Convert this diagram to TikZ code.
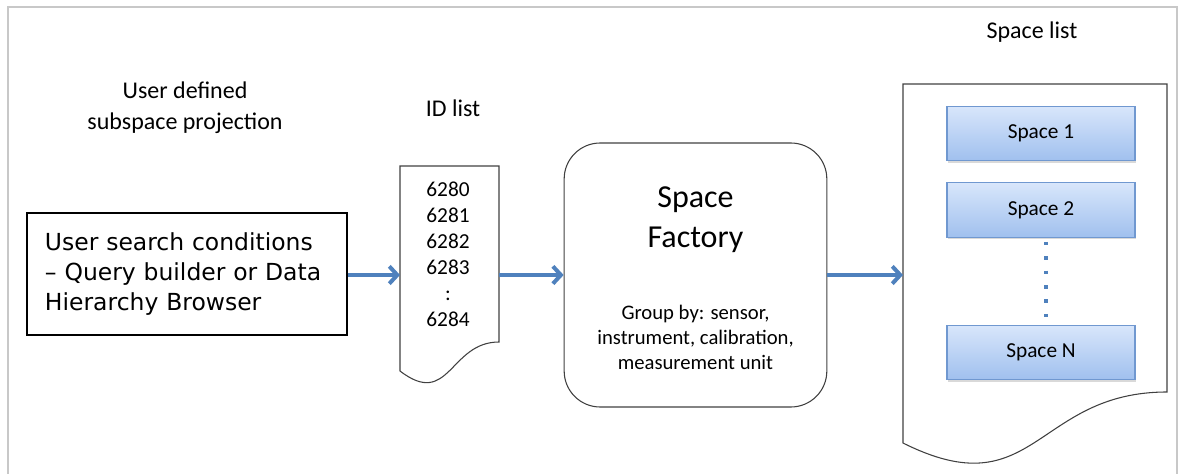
\documentclass[tikz,border=0pt]{standalone}
\usepackage{fontspec}
\setmainfont{Carlito}
\newfontfamily\boxfont{DejaVu Sans}
\usetikzlibrary{arrows.meta,shadows}
\definecolor{arrowblue}{HTML}{4F81BD}
\definecolor{spacetop}{HTML}{D8E6FB}
\definecolor{spacebot}{HTML}{A0C0EE}
\definecolor{spaceedge}{HTML}{7098D0}
\definecolor{framegray}{HTML}{C8C8C8}
\tikzset{
  flow/.style={draw=arrowblue, line width=3pt, -{Straight Barb[length=6pt,width=13pt]}},
  spacebox/.style={draw=spaceedge, line width=0.8pt, top color=spacetop, bottom color=spacebot,
    minimum width=141pt, minimum height=41pt,
    drop shadow={opacity=0.3, shadow xshift=1pt, shadow yshift=-1.5pt},
    font=\fontsize{16}{19}\selectfont},
  doc/.style={draw=black!75, line width=0.8pt},
  label/.style={align=center, font=\fontsize{18}{23}\selectfont}
}

\begin{document}
\begin{tikzpicture}[x=0.75pt,y=-0.75pt]
\useasboundingbox (0,0) rectangle (1183,474);
% frame
\draw[framegray, line width=0.8pt] (8,474) -- (8,7) -- (1177,7) -- (1177,474);

% labels
\path (185,108) node[label] (projlabel) {User defined\\subspace projection};
\path (453,108) node[label] (idlabel) {ID list};
\path (1032,32) node[label] (spacelabel) {Space list};

% search box
\path (187,274) node[draw, line width=1.1pt, minimum width=240pt, minimum height=91.5pt,
  text width=213pt, align=left, font=\boxfont\fontsize{17.6}{22.5}\selectfont] (search)
  {User search conditions\\– Query builder or Data\\Hierarchy Browser};

% ID list
\draw[doc] (400,166) -- (499,166) -- (499,342) .. controls (449.5,342) and (449.5,409) .. (400,371) -- cycle;
\path (448,254) node[align=center, font=\fontsize{16}{19.5}\selectfont] (ids)
  {6280\\6281\\6282\\6283\\:\\6284};
\coordinate (idin) at (400,275);
\coordinate (idout) at (499,275);

% factory
\path (695.5,275) node[doc, rounded corners=27pt, minimum width=197pt, minimum height=198pt] (factory) {};
\path (695.5,220) node[align=center, font=\fontsize{24}{30}\selectfont] (factorytitle) {Space\\Factory};
\path (695.5,337) node[align=center, font=\fontsize{15.5}{18.75}\selectfont] (groupby)
  {Group by: sensor,\\instrument, calibration,\\measurement unit};

% space list
\draw[doc] (903,84) -- (1167,84) -- (1167,392) .. controls (1035,392) and (1035,509) .. (903,443) -- cycle;
\coordinate (listin) at (903,275);
\path (1041,133.5) node[spacebox] (space1) {Space 1};
\path (1041,210) node[spacebox] (space2) {Space 2};
\path (1041,352.5) node[spacebox] (spaceN) {Space N};
\draw[arrowblue, line width=3pt, dash pattern=on 2.6pt off 8.2pt]
  ([xshift=4pt,yshift=-3pt]space2.south) -- ([xshift=4pt]spaceN.north);

% arrows
\draw[flow] (search.east |- idin) -- (idin);
\draw[flow] (idout) -- (factory.west |- idout);
\draw[flow] (factory.east |- listin) -- (listin);
\end{tikzpicture}
\end{document}
